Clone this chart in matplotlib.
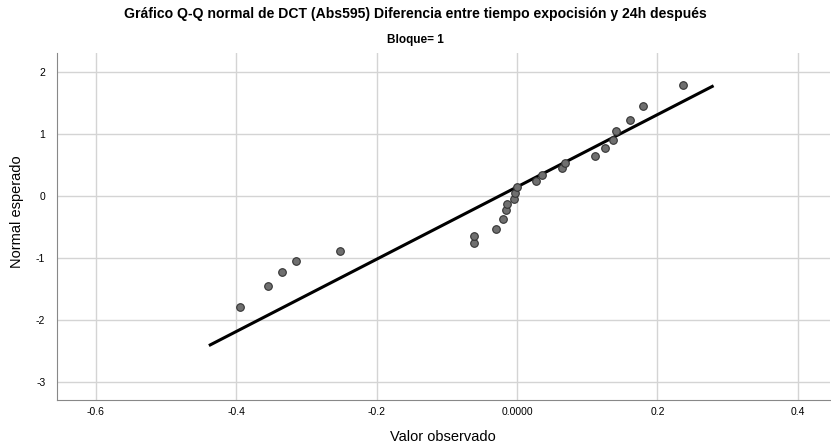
import matplotlib
matplotlib.use("Agg")
import matplotlib.pyplot as plt

plt.rcParams['font.family'] = ['Liberation Sans', 'DejaVu Sans']
plt.rcParams['axes.unicode_minus'] = False

obs = [-0.395, -0.355, -0.335, -0.315, -0.252, -0.061, -0.061, -0.030, -0.020,
       -0.016, -0.015, -0.004, -0.003, 0.000, 0.027, 0.036, 0.064, 0.069,
       0.111, 0.125, 0.137, 0.141, 0.161, 0.179, 0.236]
expected = [-1.79, -1.45, -1.22, -1.04, -0.89, -0.76, -0.645, -0.53, -0.375,
            -0.23, -0.13, -0.045, 0.05, 0.15, 0.24, 0.34, 0.45, 0.54,
            0.65, 0.77, 0.91, 1.05, 1.23, 1.45, 1.80]
line_x = [-0.437, 0.278]
line_y = [-2.40, 1.77]

xticks = [-0.6, -0.4, -0.2, 0.0, 0.2, 0.4]
xticklabels = ["-0.6", "-0.4", "-0.2", "0.0000", "0.2", "0.4"]
yticks = [-3, -2, -1, 0, 1, 2]

fig = plt.figure(figsize=(8.31, 4.45), dpi=100)
ax = fig.add_axes([0.068, 0.101, 0.931, 0.78])

ax.plot(line_x, line_y, color="black", lw=2.2, zorder=3)
ax.scatter(obs, expected, s=30, facecolor="#6f6f6f", edgecolor="#333333",
           linewidth=0.8, zorder=4)

ax.set_xlim(-0.656, 0.446)
ax.set_ylim(-3.29, 2.31)
ax.set_xticks(xticks)
ax.set_xticklabels(xticklabels)
ax.set_yticks(yticks)
ax.grid(True, color="#d4d4d4", lw=1)
ax.set_axisbelow(True)
ax.tick_params(axis="x", length=0, labelsize=7.5, pad=5)
ax.tick_params(axis="y", length=0, labelsize=7.5, pad=8)
for s in ["top", "right"]:
    ax.spines[s].set_visible(False)
for s in ["left", "bottom"]:
    ax.spines[s].set_color("#888888")

fig.text(443 / 831, 1 - 437 / 445, "Valor observado", ha="center", va="center", fontsize=10.5)
fig.text(17 / 831, 1 - 212 / 445, "Normal esperado", ha="center", va="center",
         rotation=90, fontsize=10.5)

fig.text(0.5, 0.968, "Gráfico Q-Q normal de DCT (Abs595) Diferencia entre tiempo expocisión y 24h después",
         ha="center", va="center", fontsize=10.1, fontweight="bold")
fig.text(0.5, 0.91, "Bloque= 1", ha="center", va="center", fontsize=8.5, fontweight="bold")

fig.savefig("out.png", dpi=100)
